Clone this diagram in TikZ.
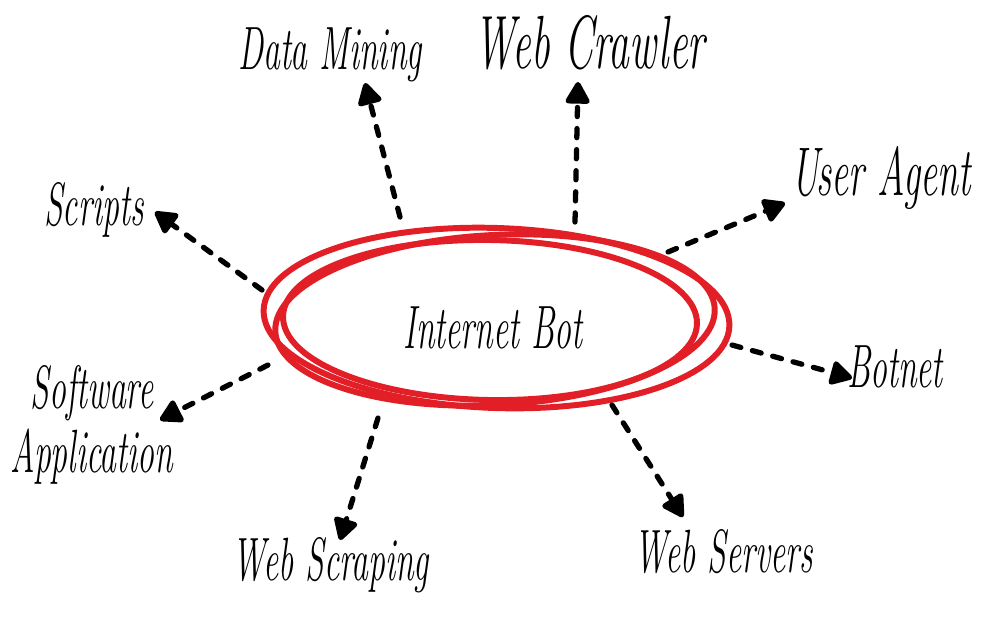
\documentclass[tikz,border=0pt]{standalone}
\usetikzlibrary{arrows.meta}
\definecolor{scribble}{RGB}{226,30,38}
\tikzset{
  lbl/.style={font=\fontsize{12}{12}\selectfont\itshape, inner sep=0pt, xscale=0.8, yscale=1.45},
  link/.style={line width=1.5pt, dash pattern=on 2.6pt off 3.4pt, line cap=round, -{Triangle[length=7pt,width=7.5pt,round]}},
  ring/.style={draw=scribble, line width=1.7pt}
}
\begin{document}
\begin{tikzpicture}[x=1cm,y=1cm]
  \useasboundingbox (0,0) rectangle (10,6.25);
  % centre and its scribbled rings
  \node[lbl] (bot) at (4.93,2.97) {Internet Bot};
  \draw[ring] ([shift={(0.035,0.10)}]bot.center) ellipse [x radius=2.33, y radius=0.90, rotate=-2];
  \draw[ring] ([shift={(-0.03,0.08)}]bot.center) ellipse [x radius=2.07, y radius=0.80, rotate=-1];
  \draw[ring] ([shift={(0.02,0.08)}]bot.center) ellipse [x radius=2.20, y radius=0.85, rotate=3];
  % labels
  \node[lbl] (dm) at (3.30,5.70) {Data Mining};
  \node[lbl, font=\fontsize{14.8}{15}\selectfont\itshape] (wc) at (5.90,5.82) {Web Crawler};
  \node[lbl, font=\fontsize{13.5}{14}\selectfont\itshape] (ua) at (8.81,4.47) {User Agent};
  \node[lbl] (sc) at (0.94,4.15) {Scripts};
  \node[lbl] (bn) at (8.95,2.58) {Botnet};
  \node[lbl, align=center, font=\fontsize{12}{12.5}\selectfont\itshape] (sa) at (0.92,2.00) {Software\\Application};
  \node[lbl] (ws) at (3.31,0.60) {Web Scraping};
  \node[lbl] (wv) at (7.24,0.73) {Web Servers};
  % dashed arrows
  \draw[link] ([shift={(-0.93,1.11)}]bot.center) -- ([shift={(0.35,-0.28)}]dm.center);
  \draw[link] ([shift={(0.82,1.06)}]bot.center) -- ([shift={(-0.12,-0.39)}]wc.center);
  \draw[link] ([shift={(1.75,0.76)}]bot.center) -- ([shift={(-0.96,-0.25)}]ua.center);
  \draw[link] ([shift={(-2.31,0.38)}]bot.center) -- ([shift={(0.61,-0.02)}]sc.center);
  \draw[link] ([shift={(-2.25,-0.37)}]bot.center) -- ([shift={(0.68,0.05)}]sa.center);
  \draw[link] ([shift={(2.39,-0.17)}]bot.center) -- ([shift={(-0.43,-0.11)}]bn.center);
  \draw[link] ([shift={(1.19,-0.77)}]bot.center) -- ([shift={(-0.41,0.35)}]wv.center);
  \draw[link] ([shift={(-1.15,-0.90)}]bot.center) -- ([shift={(0.09,0.25)}]ws.center);
\end{tikzpicture}
\end{document}
